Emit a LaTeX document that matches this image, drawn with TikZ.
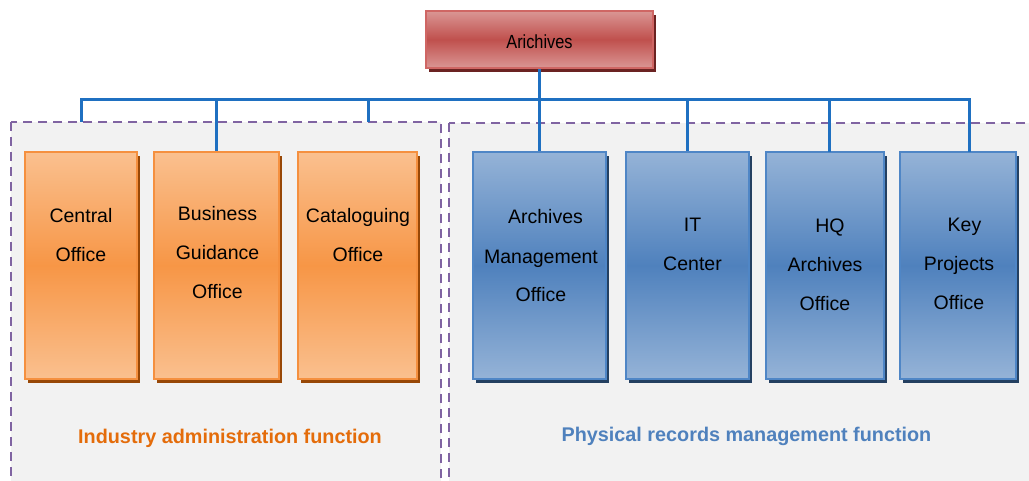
\documentclass[tikz,border=0pt]{standalone}
\usepackage{fontspec}
\setmainfont{Liberation Sans}
\usetikzlibrary{shadows}
\definecolor{busblue}{HTML}{1F70C1}
\definecolor{panelfill}{HTML}{F2F2F2}
\definecolor{paneldash}{HTML}{8064A2}
\definecolor{redlight}{HTML}{DA9694}
\definecolor{reddark}{HTML}{C0504D}
\definecolor{redborder}{HTML}{CF6664}
\definecolor{redshadow}{HTML}{6B2322}
\definecolor{orlight}{HTML}{FAC08F}
\definecolor{ordark}{HTML}{F79646}
\definecolor{orborder}{HTML}{F5903F}
\definecolor{orshadow}{HTML}{984807}
\definecolor{bllight}{HTML}{95B3D7}
\definecolor{bldark}{HTML}{4F81BD}
\definecolor{blborder}{HTML}{4F86C6}
\definecolor{blshadow}{HTML}{244061}
\definecolor{ortext}{HTML}{E46C0A}
\definecolor{bltext}{HTML}{4F81BD}
\begin{document}
\begin{tikzpicture}[x=1pt,y=-1pt,
  panel/.style={fill=panelfill,draw=paneldash,line width=2pt,dash pattern=on 9pt off 6pt},
  bus/.style={draw=busblue,line width=3pt},
  titlebox/.style={rectangle,draw=redborder,line width=1.6pt,top color=redlight,bottom color=redlight,middle color=reddark,
    minimum width=227pt,minimum height=57pt,inner sep=0pt,
    drop shadow={shadow xshift=3pt,shadow yshift=-4pt,fill=redshadow,opacity=1}},
  obox/.style={rectangle,draw=orborder,line width=2pt,top color=orlight,bottom color=orlight,middle color=ordark,
    minimum height=227pt,inner sep=0pt,
    drop shadow={shadow xshift=3pt,shadow yshift=-4pt,fill=orshadow,opacity=1}},
  bbox/.style={rectangle,draw=blborder,line width=2pt,top color=bllight,bottom color=bllight,middle color=bldark,
    minimum height=227pt,inner sep=0pt,
    drop shadow={shadow xshift=3pt,shadow yshift=-4pt,fill=blshadow,opacity=1}},
  boxtext/.style={align=center,anchor=base,inner sep=0pt,font=\fontsize{19.5}{39}\selectfont},
  functext/.style={anchor=base,inner sep=0pt,font=\fontsize{19.8}{23}\selectfont\bfseries}
]
\useasboundingbox (0,0) rectangle (1029,481);
\clip (0,0) rectangle (1029,481);
\fill[white] (0,0) rectangle (1029,481);

% panels
\draw[panel] (11,122) rectangle (441,520);
\draw[panel] (449,123) rectangle (1060,520);

% title
\node[titlebox] (t) at (539.5,39.5) {};
\node[anchor=base,inner sep=0pt,font=\fontsize{19}{23}\selectfont] (tt) at (539.5,48.5) {\scalebox{0.86}[1]{Arichives}};

% orange boxes
\node[obox,minimum width=112pt] (co) at (81,265.5) {};
\node[obox,minimum width=125pt] (bg) at (216.5,265.5) {};
\node[obox,minimum width=119pt] (ca) at (357.5,265.5) {};

% blue boxes
\node[bbox,minimum width=133pt] (am) at (539.5,265.5) {};
\node[bbox,minimum width=123pt] (it) at (687.5,265.5) {};
\node[bbox,minimum width=118pt] (hq) at (825,265.5) {};
\node[bbox,minimum width=116pt] (kp) at (958,265.5) {};

% box texts (anchored at the baseline of the last line)
\node[boxtext] (cot) at (81,261.7) {Central\\Office};
\node[boxtext] (bgt) at (217.5,298.5) {Business\\Guidance\\Office};
\node[boxtext] (cat) at (358,261.7) {Cataloguing\\Office};
\node[boxtext] (amt) at (541,302) {\hspace*{9pt}Archives\\Management\\Office};
\node[boxtext] (itt) at (692.5,270.7) {IT\\Center};
\node[boxtext] (hqt) at (825,310.7) {\hspace*{10pt}HQ\\Archives\\Office};
\node[boxtext] (kpt) at (959,309) {\hspace*{11pt}Key\\Projects\\Office};

% function labels
\node[functext,text=ortext] (f1) at (230,443) {Industry administration function};
\node[functext,text=bltext] (f2) at (746.5,441.5) {Physical records management function};

% connectors
\coordinate (p1) at (81,122);
\coordinate (p3) at (368,122);
\coordinate (b1) at (81,100);
\coordinate (hqs) at (829,152);
\coordinate (kps) at (969,152);
\draw[bus] (p1) -- (b1) -- (b1-|kps) -- (kps);
\draw[bus] (t.south) -- (am.north);
\draw[bus] (bg.north) -- (bg.north|-b1);
\draw[bus] (p3) -- (p3|-b1);
\draw[bus] (it.north) -- (it.north|-b1);
\draw[bus] (hqs) -- (hqs|-b1);
\end{tikzpicture}
\end{document}
